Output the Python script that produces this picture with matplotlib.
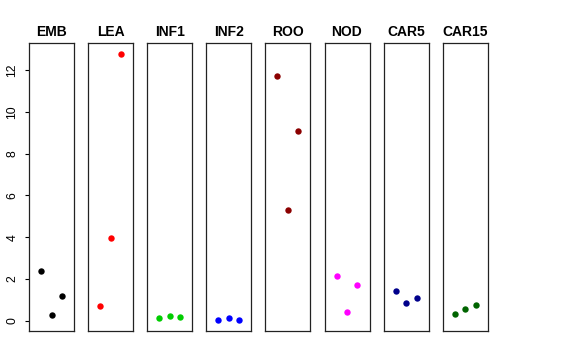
import matplotlib
matplotlib.use("Agg")
import matplotlib.pyplot as plt

# tissues and their three replicate values
tissues = ["EMB", "LEA", "INF1", "INF2", "ROO", "NOD", "CAR5", "CAR15"]
colors = ["black", "#FF0000", "#00CD00", "#0000FF", "#8B0000", "#FF00FF", "#00008B", "#006400"]
replicates = [1, 2, 3]
emb = [2.40, 0.27, 1.20]
lea = [0.69, 3.98, 12.80]
inf1 = [0.13, 0.24, 0.16]
inf2 = [0.02, 0.11, 0.01]
roo = [11.73, 5.30, 9.09]
nod = [2.13, 0.43, 1.71]
car5 = [1.41, 0.83, 1.06]
car15 = [0.30, 0.56, 0.75]
values = [emb, lea, inf1, inf2, roo, nod, car5, car15]
yticks = [0, 2, 4, 6, 8, 10, 12]

plt.rcParams["font.family"] = ["Liberation Sans", "DejaVu Sans"]

W, H = 576, 360
fig = plt.figure(figsize=(W / 100, H / 100), dpi=100)

left0, step, pw = 29, 59.1, 45
top, bottom = 43, 331
ymin = min(min(v) for v in values)
ymax = max(max(v) for v in values)
span = ymax - ymin

for i, (name, col, vals) in enumerate(zip(tissues, colors, values)):
    x0 = left0 + i * step
    ax = fig.add_axes([x0 / W, (H - bottom) / H, pw / W, (bottom - top) / H])
    ax.plot(replicates, vals, "o", color=col, markersize=4.6, markeredgewidth=0)
    ax.set_xlim(-0.16, 4.16)
    ax.set_ylim(ymin - 0.04 * span, ymax + 0.04 * span)
    ax.set_xticks([])
    for s in ax.spines.values():
        s.set_linewidth(0.9)
        s.set_color("#222222")
    ax.set_title(name, fontsize=10, fontweight="bold", pad=5)
    if i == 0:
        ax.set_yticks(yticks)
        ax.set_yticklabels([str(t) for t in yticks], rotation=90, va="center", fontsize=8.8)
        ax.tick_params(axis="y", length=3, width=0.8, pad=4.5)
    else:
        ax.set_yticks([])

fig.savefig("out.png", dpi=100)
